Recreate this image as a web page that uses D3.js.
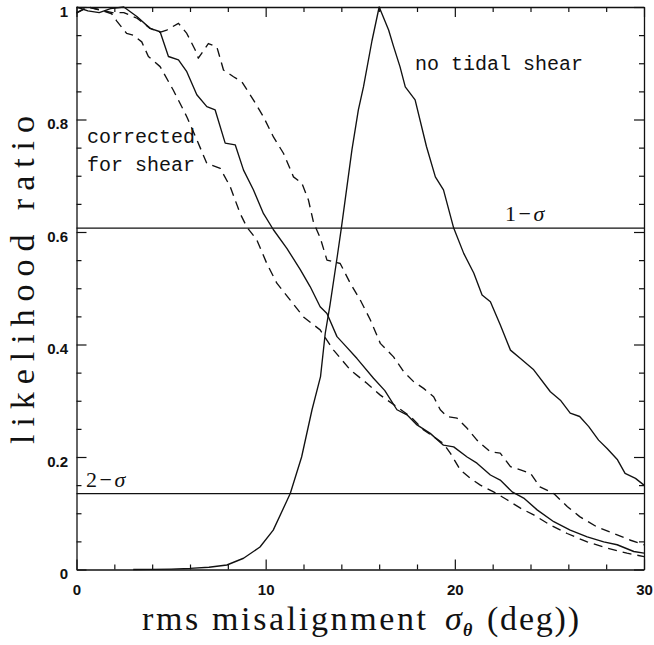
<!DOCTYPE html>
<html>
<head>
<meta charset="utf-8">
<script src="https://cdn.jsdelivr.net/npm/d3@7"></script>
<style>
  html, body { margin: 0; padding: 0; background: #fff; }
  svg { display: block; }
</style>
</head>
<body>
<svg id="chart" width="654" height="645"></svg>
<script>
// Likelihood ratio versus rms misalignment (deg)

// No tidal shear (solid, peaked)
const noShearX = [3, 4, 5, 6, 7, 7.95, 8.83, 9.7, 10.4, 11.3, 11.9, 12.45, 12.9, 13.15, 13.4, 13.8, 14.0, 14.56, 14.9, 15.17, 15.62, 16.0, 16.5, 16.76, 17.1, 17.38, 17.9, 18.5, 18.97, 19.4, 19.94, 20.47, 21.0, 21.44, 21.88, 22.4, 22.94, 23.47, 24.17, 25.05, 25.58, 26.1, 26.6, 27.08, 27.6, 28.05, 28.6, 29.0, 29.55, 30];
const noShearY = [0, 0.0002, 0.0008, 0.002, 0.004, 0.008, 0.02, 0.04, 0.07, 0.135, 0.2, 0.284, 0.343, 0.42, 0.47, 0.56, 0.607, 0.746, 0.817, 0.858, 0.94, 1.0, 0.959, 0.93, 0.894, 0.858, 0.835, 0.752, 0.698, 0.675, 0.607, 0.562, 0.527, 0.488, 0.476, 0.435, 0.39, 0.375, 0.355, 0.316, 0.301, 0.278, 0.272, 0.254, 0.23, 0.215, 0.195, 0.171, 0.162, 0.15];

// Corrected for shear (solid)
const correctedX = [0, 0.6, 1.2, 1.8, 2.5, 3.19, 3.89, 4.42, 4.86, 5.39, 5.83, 6.36, 6.89, 7.33, 7.86, 8.39, 8.83, 9.35, 9.88, 10.41, 11.12, 11.83, 12.35, 12.88, 13.24, 13.77, 14.1, 14.83, 15.7, 16.3, 16.94, 17.47, 18.0, 18.7, 19.4, 19.94, 20.65, 21.17, 21.88, 22.4, 23.03, 23.64, 24.35, 25.23, 26.1, 27.0, 27.87, 28.58, 29.46, 30];
const correctedY = [1.0, 0.993, 0.99, 0.997, 1.0, 0.983, 0.962, 0.956, 0.912, 0.906, 0.885, 0.844, 0.823, 0.817, 0.758, 0.755, 0.71, 0.675, 0.633, 0.604, 0.571, 0.533, 0.503, 0.467, 0.455, 0.414, 0.402, 0.375, 0.34, 0.318, 0.284, 0.275, 0.257, 0.242, 0.221, 0.218, 0.2, 0.189, 0.168, 0.159, 0.138, 0.127, 0.106, 0.085, 0.07, 0.058, 0.049, 0.044, 0.032, 0.029];

// Corrected, lower bound (dashed)
const lowerX = [0, 0.62, 1.24, 1.86, 2.13, 2.65, 3.0, 3.45, 3.8, 4.42, 5.12, 5.83, 6.36, 6.89, 7.6, 8.12, 8.65, 9.0, 9.53, 10.06, 10.59, 11.3, 12.0, 12.53, 12.88, 13.59, 14.47, 15.35, 16.06, 16.94, 17.65, 18.35, 18.88, 19.4, 19.76, 20.29, 20.82, 21.35, 22.05, 22.76, 23.47, 24.17, 25.05, 25.94, 27.0, 28.05, 29.1, 30];
const lowerY = [0.989, 1.0, 0.995, 0.988, 0.975, 0.953, 0.95, 0.938, 0.912, 0.894, 0.852, 0.805, 0.764, 0.722, 0.713, 0.681, 0.633, 0.609, 0.586, 0.544, 0.509, 0.479, 0.449, 0.435, 0.426, 0.39, 0.355, 0.331, 0.31, 0.289, 0.272, 0.248, 0.236, 0.224, 0.207, 0.177, 0.162, 0.15, 0.138, 0.124, 0.109, 0.097, 0.079, 0.064, 0.049, 0.038, 0.029, 0.023];

// Corrected, upper bound (dashed)
const upperX = [0, 0.6, 1.2, 1.9, 2.5, 3.2, 3.9, 4.4, 4.77, 5.39, 5.83, 6.27, 6.44, 6.97, 7.42, 7.77, 8.3, 8.74, 9.35, 9.88, 10.41, 10.94, 11.47, 11.91, 12.26, 12.53, 12.88, 13.24, 13.94, 14.47, 15.0, 15.53, 16.06, 16.76, 17.29, 17.82, 18.35, 18.88, 19.23, 19.59, 20.12, 20.65, 21.17, 21.88, 22.4, 22.94, 23.47, 24.0, 24.5, 25.23, 25.94, 26.6, 27.5, 28.4, 29.29, 30];
const upperY = [0.99, 1.0, 0.995, 0.99, 0.99, 0.98, 0.962, 0.955, 0.959, 0.971, 0.953, 0.924, 0.909, 0.935, 0.929, 0.888, 0.876, 0.867, 0.835, 0.805, 0.769, 0.74, 0.698, 0.687, 0.657, 0.617, 0.59, 0.55, 0.544, 0.509, 0.479, 0.444, 0.402, 0.378, 0.352, 0.334, 0.322, 0.307, 0.284, 0.272, 0.269, 0.251, 0.23, 0.209, 0.207, 0.183, 0.177, 0.171, 0.147, 0.135, 0.112, 0.094, 0.076, 0.064, 0.052, 0.044];

// Confidence levels
const sigmaLevels = [0.607, 0.135];
const sigmaNames = ["1", "2"];

// Axis ticks
const xMajorTicks = [0, 10, 20, 30];
const xMinorTicks = [2, 4, 6, 8, 12, 14, 16, 18, 22, 24, 26, 28];
const yMajorTicks = [0, 0.2, 0.4, 0.6, 0.8, 1];
const yTickLabels = ["0", "0.2", "0.4", "0.6", "0.8", "1"];
const yMinorTicks = [0.05, 0.1, 0.15, 0.25, 0.3, 0.35, 0.45, 0.5, 0.55, 0.65, 0.7, 0.75, 0.85, 0.9, 0.95];

const svg = d3.select("#chart");
const x = d3.scaleLinear().domain([0, 30]).range([76.5, 644]);
const y = d3.scaleLinear().domain([0, 1]).range([569.5, 7]);

const INK = "#111";
const tickFont = "'Liberation Sans', Arial, Helvetica, sans-serif";
const serif = "'Liberation Serif', 'Times New Roman', serif";
const mono = "'Liberation Mono', 'Courier New', monospace";

function inkAxis(g, keepDomain) {
  g.attr("font-family", tickFont).attr("font-size", 15).attr("font-weight", "bold");
  g.selectAll(".tick line").attr("stroke", INK).attr("stroke-width", 1.2);
  if (keepDomain) g.select("path.domain").attr("stroke", INK).attr("stroke-width", 1.3);
  else g.select("path.domain").remove();
  g.selectAll("text").attr("fill", INK);
}

// Bottom axis
svg.append("g").attr("transform", `translate(0,${y(0)})`)
  .call(d3.axisBottom(x).tickValues(xMajorTicks).tickSize(-10).tickSizeOuter(0).tickPadding(15).tickFormat(d3.format("d")))
  .call(g => inkAxis(g, true));
svg.append("g").attr("transform", `translate(0,${y(0)})`)
  .call(d3.axisBottom(x).tickValues(xMinorTicks).tickSize(-5).tickFormat(""))
  .call(g => inkAxis(g, false));

// Top axis
svg.append("g").attr("transform", `translate(0,${y(1)})`)
  .call(d3.axisTop(x).tickValues(xMajorTicks).tickSize(-10).tickSizeOuter(0).tickFormat(""))
  .call(g => inkAxis(g, true));
svg.append("g").attr("transform", `translate(0,${y(1)})`)
  .call(d3.axisTop(x).tickValues(xMinorTicks).tickSize(-5).tickFormat(""))
  .call(g => inkAxis(g, false));

// Left axis
svg.append("g").attr("transform", `translate(${x(0)},0)`)
  .call(d3.axisLeft(y).tickValues(yMajorTicks).tickSize(-10).tickSizeOuter(0).tickPadding(8.5)
    .tickFormat((d, i) => yTickLabels[i]))
  .call(g => inkAxis(g, true))
  .call(g => g.selectAll("text").attr("dy", "0.6em"));
svg.append("g").attr("transform", `translate(${x(0)},0)`)
  .call(d3.axisLeft(y).tickValues(yMinorTicks).tickSize(-5).tickFormat(""))
  .call(g => inkAxis(g, false));

// Right axis
svg.append("g").attr("transform", `translate(${x(30)},0)`)
  .call(d3.axisRight(y).tickValues(yMajorTicks).tickSize(-10).tickSizeOuter(0).tickFormat(""))
  .call(g => inkAxis(g, true));
svg.append("g").attr("transform", `translate(${x(30)},0)`)
  .call(d3.axisRight(y).tickValues(yMinorTicks).tickSize(-5).tickFormat(""))
  .call(g => inkAxis(g, false));

// Confidence level lines
svg.append("g").selectAll("line").data(sigmaLevels).join("line")
  .attr("x1", x(0)).attr("x2", x(30))
  .attr("y1", d => y(d)).attr("y2", d => y(d))
  .attr("stroke", INK).attr("stroke-width", 1.3);

// Curves
const line = d3.line().x(d => x(d[0])).y(d => y(d[1]));
const curves = [
  { pts: d3.zip(noShearX, noShearY), dash: null },
  { pts: d3.zip(correctedX, correctedY), dash: null },
  { pts: d3.zip(lowerX, lowerY), dash: "9,6" },
  { pts: d3.zip(upperX, upperY), dash: "9,6" }
];
svg.append("g").selectAll("path").data(curves).join("path")
  .attr("d", d => line(d.pts))
  .attr("fill", "none")
  .attr("stroke", INK)
  .attr("stroke-width", 1.35)
  .attr("stroke-linejoin", "round")
  .attr("stroke-dasharray", d => d.dash);

// Curve annotations
const notes = svg.append("g").attr("font-family", mono).attr("font-size", 20).attr("fill", INK);
notes.append("text").attr("x", 415).attr("y", 70).text("no tidal shear");
notes.append("text").attr("x", 87).attr("y", 143).text("corrected");
notes.append("text").attr("x", 87).attr("y", 171).text("for shear");

// Sigma labels
const sigmaPos = [[505, y(sigmaLevels[0]) - 7], [86, y(sigmaLevels[1]) - 7]];
sigmaNames.forEach((n, i) => {
  const t = svg.append("text").attr("x", sigmaPos[i][0]).attr("y", sigmaPos[i][1])
    .attr("font-family", serif).attr("font-size", 22).attr("fill", INK)
    .attr("letter-spacing", 2.5);
  t.append("tspan").text(n + "\u2212");
  t.append("tspan").attr("font-style", "italic").text("\u03c3");
});

// Axis titles
const xTitle = svg.append("g").attr("font-family", serif).attr("font-size", 34).attr("fill", INK);
xTitle.append("text").attr("x", 142).attr("y", 630)
  .attr("textLength", 284).attr("lengthAdjust", "spacing")
  .text("rms misalignment");
xTitle.append("text").attr("x", 445).attr("y", 630)
  .attr("font-style", "italic").text("\u03c3");
xTitle.append("text").attr("x", 463).attr("y", 636)
  .attr("font-style", "italic").attr("font-weight", "bold").attr("font-size", 18)
  .text("\u03b8");
xTitle.append("text").attr("x", 487).attr("y", 630)
  .attr("textLength", 92).attr("lengthAdjust", "spacing")
  .text("(deg))");

svg.append("text")
  .attr("transform", `translate(34,280) rotate(-90)`)
  .attr("text-anchor", "middle")
  .attr("font-family", serif).attr("font-size", 34).attr("fill", INK)
  .attr("textLength", 328).attr("lengthAdjust", "spacing")
  .text("likelihood ratio");
</script>
</body>
</html>
